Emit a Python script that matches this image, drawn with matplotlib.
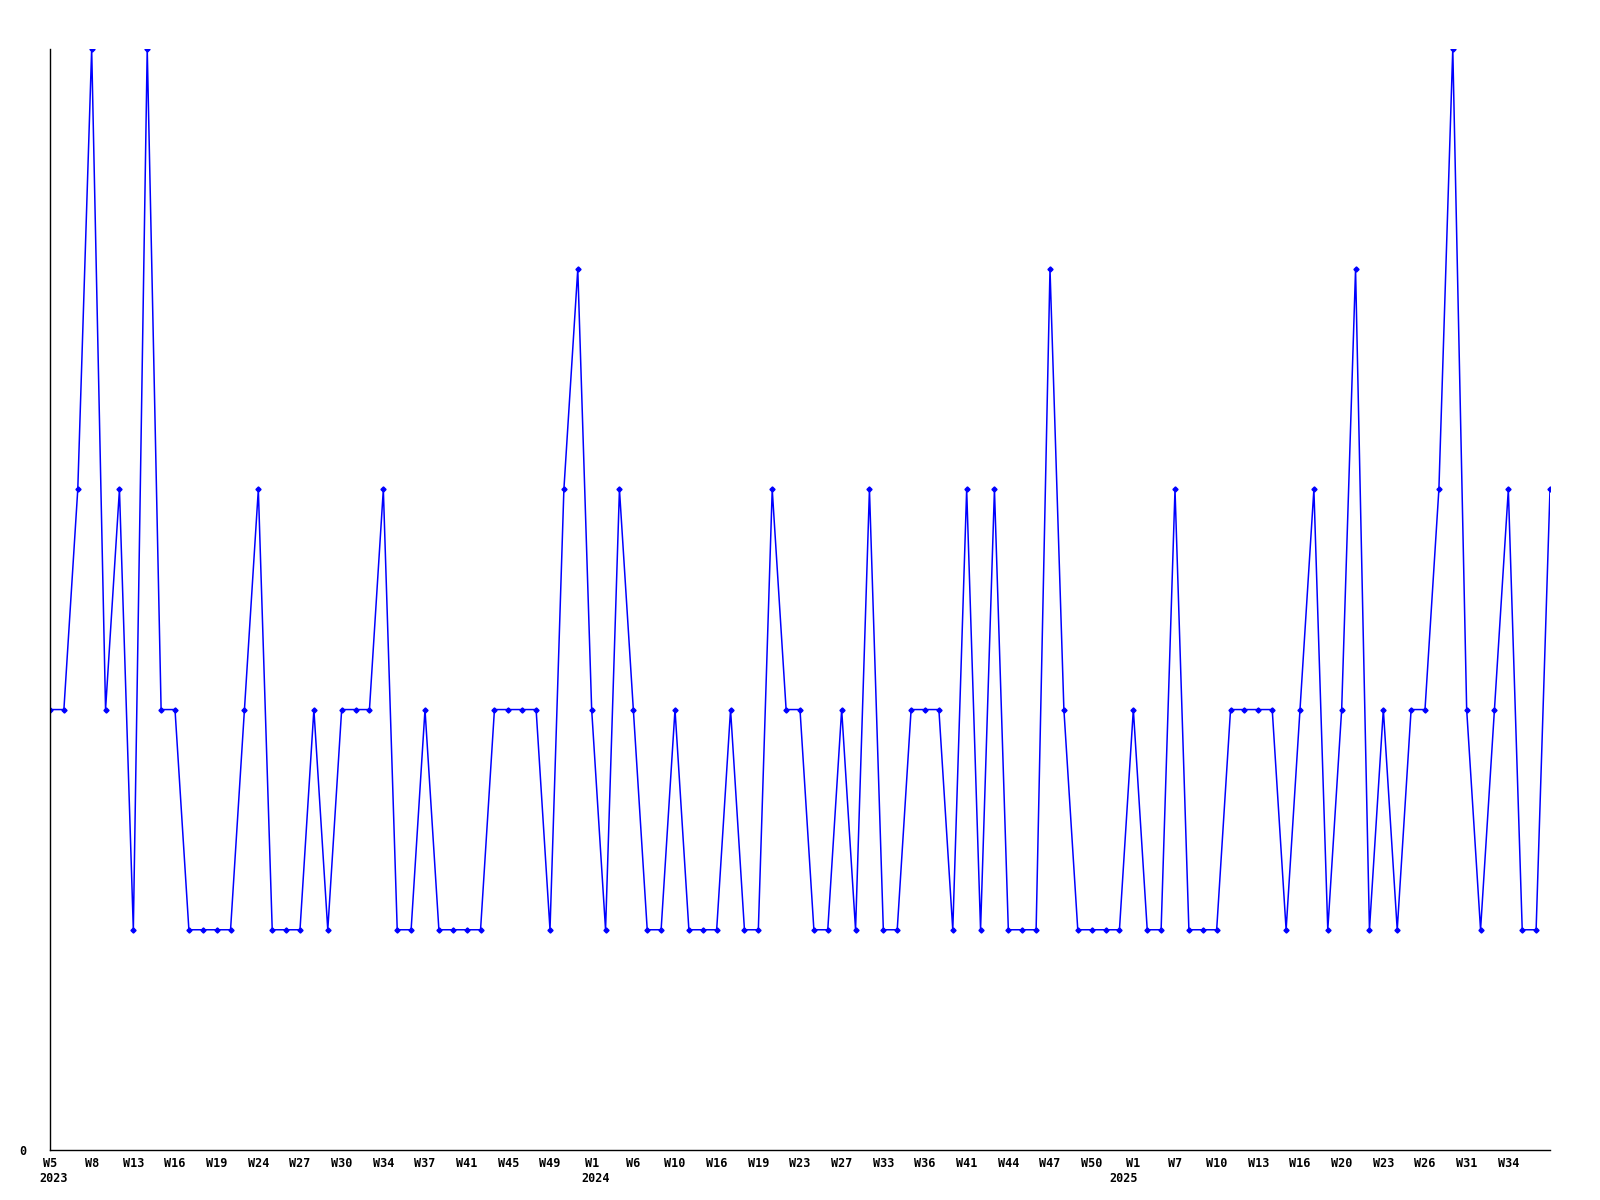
import numpy as np
import matplotlib.pyplot as plt

# valores semanales (cada punto equiespaciado en el eje x)
valores = [2, 2, 3, 5, 2, 3, 1, 5, 2, 2, 1, 1, 1, 1, 2, 3, 1, 1, 1, 2,
           1, 2, 2, 2, 3, 1, 1, 2, 1, 1, 1, 1, 2, 2, 2, 2, 1, 3, 4, 2,
           1, 3, 2, 1, 1, 2, 1, 1, 1, 2, 1, 1, 3, 2, 2, 1, 1, 2, 1, 3,
           1, 1, 2, 2, 2, 1, 3, 1, 3, 1, 1, 1, 4, 2, 1, 1, 1, 1, 2, 1,
           1, 3, 1, 1, 1, 2, 2, 2, 2, 1, 2, 3, 1, 2, 4, 1, 2, 1, 2, 2,
           3, 5, 2, 1, 2, 3, 1, 1, 3]

etiquetas = ['W5', 'W8', 'W13', 'W16', 'W19', 'W24', 'W27', 'W30', 'W34', 'W37',
             'W41', 'W45', 'W49', 'W1', 'W6', 'W10', 'W16', 'W19', 'W23', 'W27',
             'W33', 'W36', 'W41', 'W44', 'W47', 'W50', 'W1', 'W7', 'W10', 'W13',
             'W16', 'W20', 'W23', 'W26', 'W31', 'W34']
cada = 3  # una etiqueta cada 3 puntos

anios = ['2023', '2024', '2025']
anios_idx = [0, 13, 26]  # indice de la etiqueta bajo la que va el año

x = np.arange(len(valores))
fuente = dict(family='DejaVu Sans Mono', weight='bold', size=8.5)

fig = plt.figure(figsize=(16, 12), dpi=100)
ax = fig.add_axes([0.03125, 0.0417, 0.9375, 0.9175])
ax.plot(x, valores, color='#0000ff', lw=1.1, marker='D', markersize=2.6)

ax.set_xlim(0, len(valores) - 1)
ax.set_ylim(0, max(valores))
ax.spines['top'].set_visible(False)
ax.spines['right'].set_visible(False)
ax.spines['left'].set_linewidth(1.0)
ax.spines['bottom'].set_linewidth(1.0)

ticks = np.arange(len(etiquetas)) * cada
ax.set_xticks(ticks)
ax.set_xticklabels(etiquetas, **fuente)
ax.set_yticks([0])
ax.set_yticklabels(['0'], **fuente)
ax.tick_params(axis='x', length=0, pad=5)
ax.tick_params(axis='y', length=0, pad=17)

alineacion = ['left', 'left', 'right']
desplaz = [-0.75, -0.75, 0.35]
for anio, k, ha, d in zip(anios, anios_idx, alineacion, desplaz):
    ax.annotate(anio, xy=(ticks[k] + d, 0), xycoords=ax.get_xaxis_transform(),
                xytext=(0, -16), textcoords='offset points', ha=ha, va='top', **fuente)

plt.savefig('out.png', dpi=100)
